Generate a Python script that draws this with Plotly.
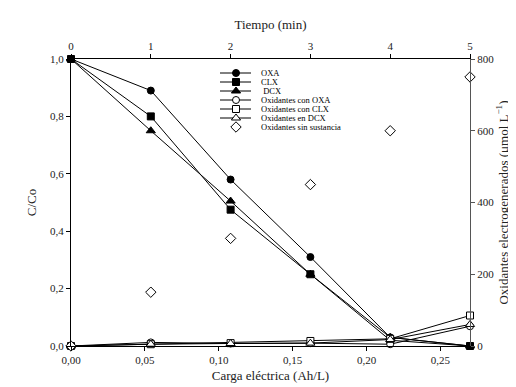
import plotly.graph_objects as go

# ---- data ----
tiempo = [0, 1, 2, 3, 4, 5]
carga = [0.0, 0.054, 0.108, 0.162, 0.216, 0.27]

oxa = [1.0, 0.89, 0.58, 0.31, 0.03, 0.0]
clx = [1.0, 0.80, 0.475, 0.25, 0.02, 0.0]
dcx = [1.0, 0.75, 0.505, 0.25, 0.03, 0.0]

ox_con_oxa = [0, 10, 7, 8, 5, 55]
ox_con_clx = [0, 5, 8, 14, 20, 85]
ox_en_dcx = [0, 5, 7, 8, 18, 60]
ox_sin = [0, 150, 300, 450, 600, 750]

names = ["OXA", "CLX", " DCX", "Oxidantes con OXA", "Oxidantes con CLX",
         "Oxidantes en DCX", "Oxidantes sin sustancia"]

FONT = "Liberation Serif, DejaVu Serif, serif"
L, R, T, B = 63, 54, 51, 49
W, H = 516, 387

fig = go.Figure()

def mk(symbol, fill, size):
    return dict(symbol=symbol, size=size, color=fill, line=dict(color="black", width=1))

styles = [
    (oxa, "y", mk("circle", "black", 7), True),
    (clx, "y", mk("square", "black", 7), True),
    (dcx, "y", mk("triangle-up", "black", 8), True),
    (ox_con_oxa, "y2", mk("circle", "white", 7), True),
    (ox_con_clx, "y2", mk("square", "white", 7), True),
    (ox_en_dcx, "y2", mk("triangle-up", "white", 8), True),
    (ox_sin, "y2", mk("diamond", "white", 8), False),
]

for (vals, yax, marker, withline), name in zip(styles, names):
    fig.add_trace(go.Scatter(
        x=carga, y=vals, yaxis=yax, name=name,
        mode="lines+markers" if withline else "markers",
        line=dict(color="black", width=1), marker=marker,
        cliponaxis=False, showlegend=False))

# invisible trace to carry the top time axis
fig.add_trace(go.Scatter(x=tiempo, y=[None] * len(tiempo), xaxis="x2",
                         mode="markers", showlegend=False, hoverinfo="skip"))

# ---- custom compact legend (on a pixel-like helper axis) ----
leg_rows = [65, 74, 83, 92, 101, 110, 119]
leg_x0, leg_xm, leg_x1, leg_tx = 212, 228, 243, 251
for (vals, yax, marker, withline), name, ry in zip(styles, names, leg_rows):
    if withline:
        fig.add_trace(go.Scatter(x=[leg_x0, leg_x1], y=[ry, ry], xaxis="x3", yaxis="y3",
                                 mode="lines", line=dict(color="black", width=1),
                                 showlegend=False, hoverinfo="skip"))
    fig.add_trace(go.Scatter(x=[leg_xm], y=[ry], xaxis="x3", yaxis="y3",
                             mode="markers", marker=marker, cliponaxis=False,
                             showlegend=False, hoverinfo="skip"))
    fig.add_annotation(x=leg_tx, y=ry, xref="x3", yref="y3", text=name,
                       showarrow=False, xanchor="left", yanchor="middle",
                       font=dict(family=FONT, size=8.5, color="black"))

def axis_style(linecolor="black"):
    return dict(showgrid=False, zeroline=False, showline=True, linecolor=linecolor,
                linewidth=1.2, ticks="outside", ticklen=4, tickcolor=linecolor,
                automargin=False,
                tickfont=dict(family=FONT, size=11, color="#222"))

fig.update_layout(
    width=W, height=H,
    margin=dict(l=L, r=R, t=T, b=B, autoexpand=False),
    paper_bgcolor="white", plot_bgcolor="white",
    separators=",.",
    font=dict(family=FONT, color="#222"),
    xaxis=dict(range=[0, 0.27], tickvals=[0, 0.05, 0.1, 0.15, 0.2, 0.25],
               tickformat=".2f",
               title=dict(text="Carga eléctrica (Ah/L)", font=dict(family=FONT, size=13),
                          standoff=5),
               **axis_style()),
    xaxis2=dict(range=[0, 5], overlaying="x", side="top", anchor="y",
                tickvals=[0, 1, 2, 3, 4, 5],
                title=dict(text="Tiempo (min)", font=dict(family=FONT, size=13),
                           standoff=6),
                **axis_style()),
    yaxis=dict(range=[0, 1], tickvals=[0, 0.2, 0.4, 0.6, 0.8, 1.0], tickformat=".1f",
               title=dict(text="C/Co", font=dict(family=FONT, size=13), standoff=10),
               **axis_style()),
    yaxis2=dict(range=[0, 800], overlaying="y", side="right", anchor="x",
                tickvals=[0, 200, 400, 600, 800],
                title=dict(text="Oxidantes electrogenerados (μmol L<sup>−1</sup>)",
                           font=dict(family=FONT, size=13), standoff=3),
                **axis_style("#555")),
    xaxis3=dict(domain=[0, 1], range=[L, W - R], visible=False, anchor="y3",
                overlaying="x"),
    yaxis3=dict(domain=[0, 1], range=[H - B, T], visible=False, anchor="x3",
                overlaying="y"),
)

fig.write_html("out.html")
